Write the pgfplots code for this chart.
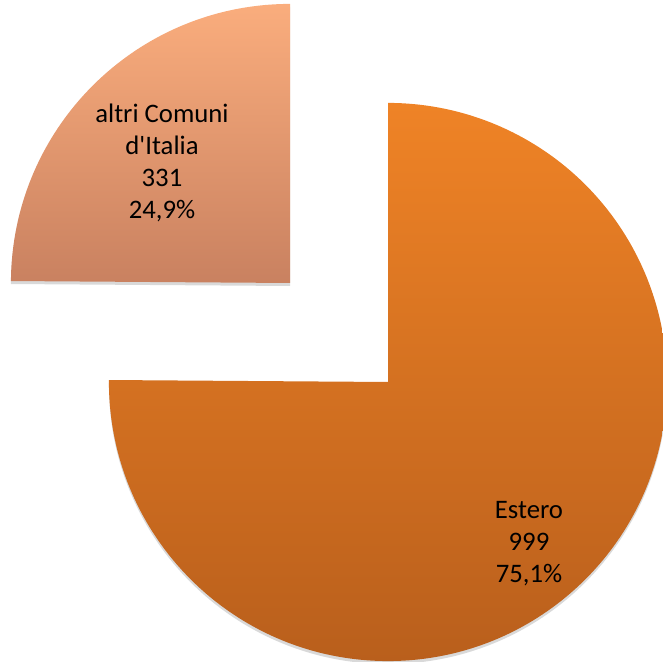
\documentclass[border=0pt]{standalone}
\usepackage{pgfplots}
\pgfplotsset{compat=1.18}
\usepackage{fontspec}
\setmainfont{Carlito}
\definecolor{estTop}{HTML}{EF8326}
\definecolor{estBot}{HTML}{B95F1C}
\definecolor{altTop}{HTML}{FAAD7D}
\definecolor{altBot}{HTML}{C98160}
\begin{document}
\begin{tikzpicture}
% values of the two slices
\pgfmathsetmacro{\vEst}{999}
\pgfmathsetmacro{\vAlt}{331}
\pgfmathsetmacro{\aAlt}{360*(\vAlt/(\vEst+\vAlt))}
\def\R{6.975cm} % 279 px radius, 1 px = 0.025cm
\begin{axis}[
    x=0.025cm, y=0.025cm,
    xmin=0, xmax=663, ymin=0, ymax=662,
    scale only axis, hide axis, clip=true]
% shadows
\fill[black, opacity=0.15] (axis cs:388,277) -- ++({90+\aAlt}:\R)
    arc[start angle={90+\aAlt}, end angle=450, radius=\R] -- cycle;
\fill[black, opacity=0.15] (axis cs:290,376) -- ++(90:\R)
    arc[start angle=90, end angle={90+\aAlt}, radius=\R] -- cycle;
% Estero (slice 1)
\shade[top color=estTop, bottom color=estBot] (axis cs:388,280) -- ++({90+\aAlt}:\R)
    arc[start angle={90+\aAlt}, end angle=450, radius=\R] -- cycle;
% altri Comuni d'Italia (exploded)
\shade[top color=altTop, bottom color=altBot] (axis cs:290,379) -- ++(90:\R)
    arc[start angle=90, end angle={90+\aAlt}, radius=\R] -- cycle;
\node[align=center, font=\fontsize{19}{22.8}\selectfont] at (axis cs:162,499)
    {altri Comuni\\d\textquotesingle Italia\\331\\24,9\%};
\node[align=center, font=\fontsize{19}{22.8}\selectfont] at (axis cs:529,118)
    {Estero\\999\\75,1\%};
\end{axis}
\pgfresetboundingbox
\path[use as bounding box] (current axis.south west) rectangle (current axis.north east);
\end{tikzpicture}
\end{document}
